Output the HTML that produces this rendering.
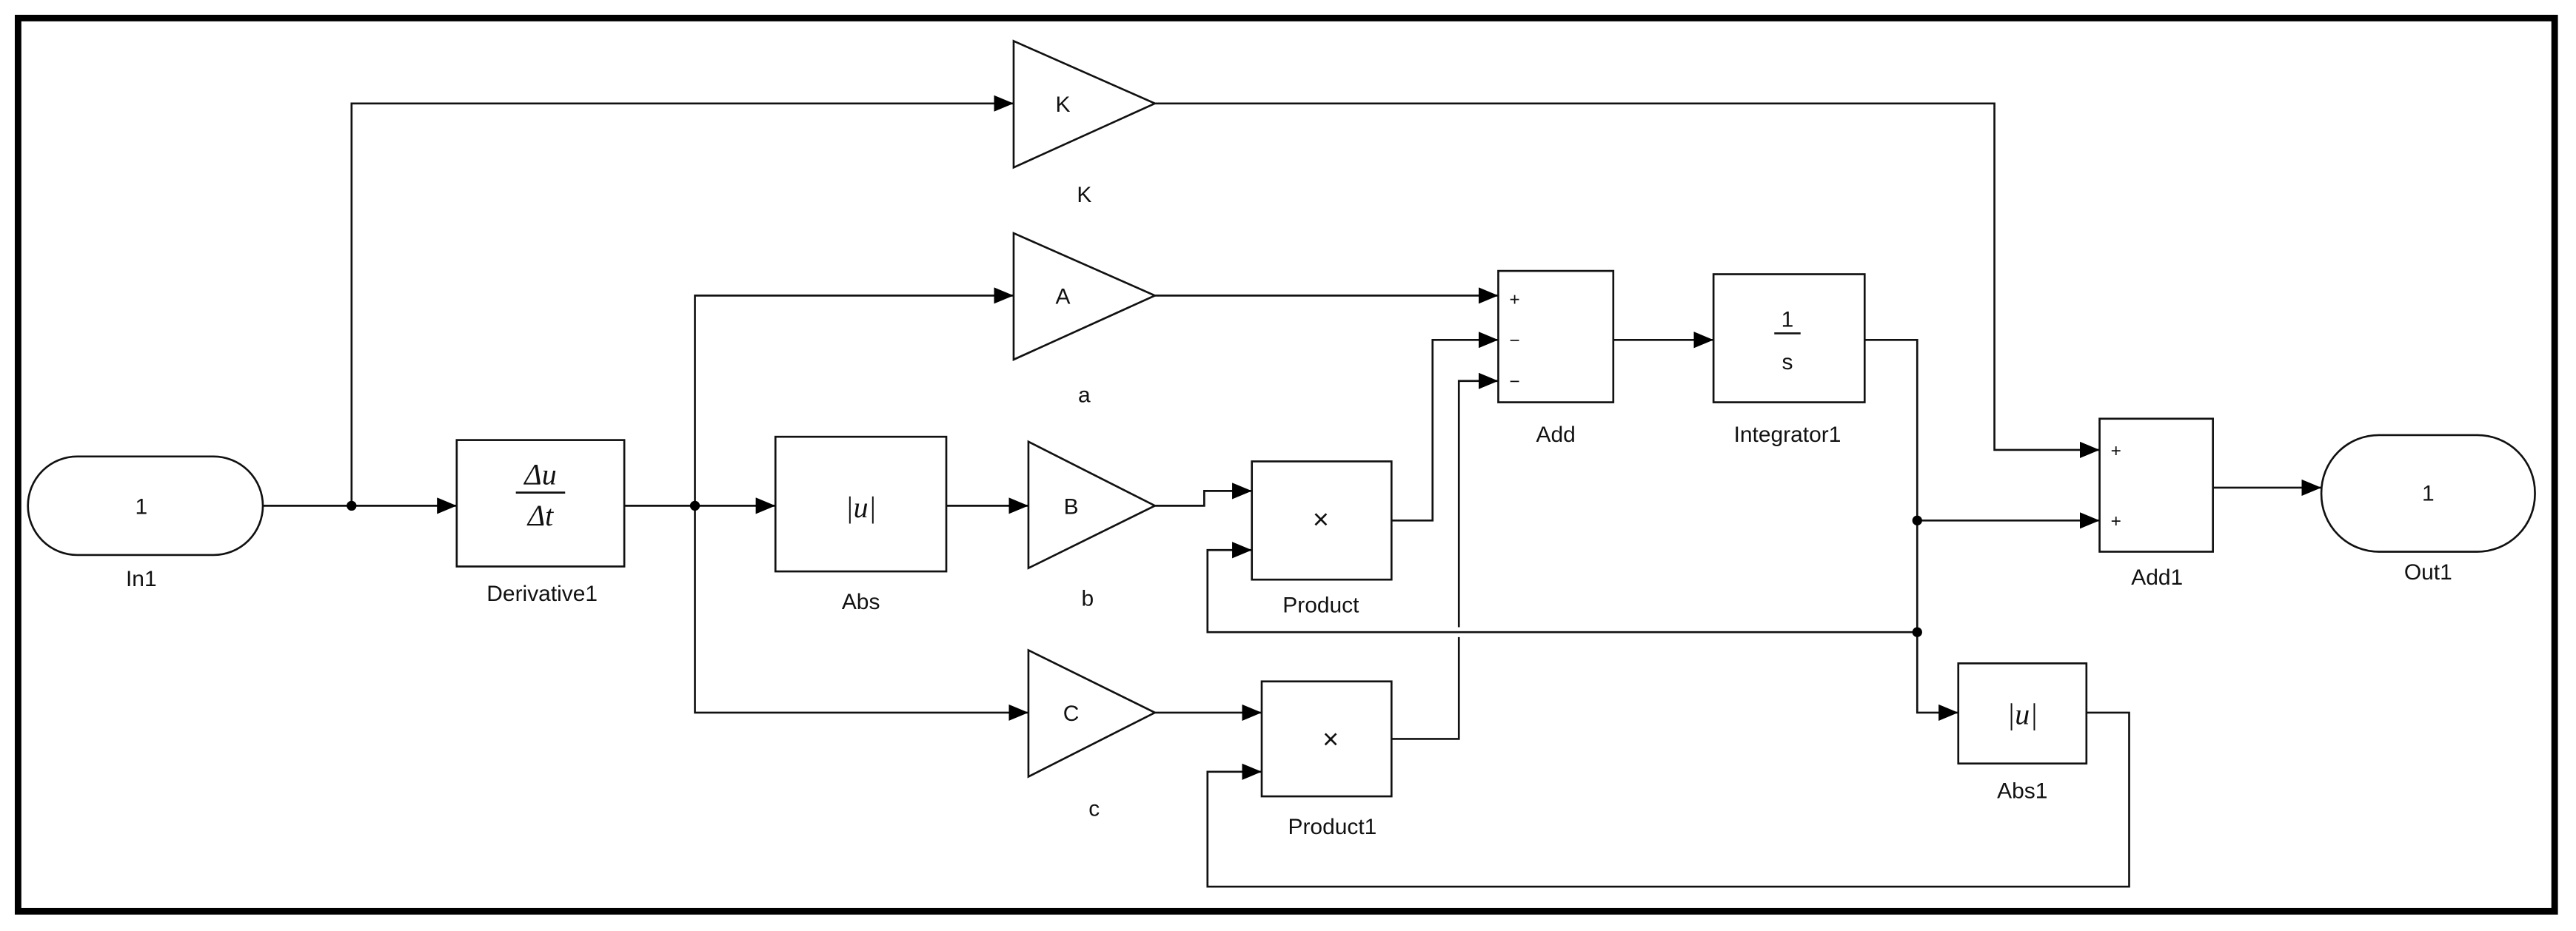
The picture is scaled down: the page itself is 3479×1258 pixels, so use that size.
<!DOCTYPE html>
<html><head><meta charset="utf-8"><style>
html,body{margin:0;padding:0;background:#fff;}
svg{display:block;}
text{font-family:"Liberation Sans",sans-serif;font-size:13.5px;fill:#111;text-anchor:middle;}
.m{font-family:"Liberation Serif",serif;font-style:italic;font-size:18px;}
</style></head><body>
<svg width="3479" height="1258" viewBox="0 0 1568 567" preserveAspectRatio="none" xmlns="http://www.w3.org/2000/svg">
<defs><marker id="a" markerWidth="12" markerHeight="10" refX="12" refY="5" orient="auto" markerUnits="userSpaceOnUse"><path d="M0,0 L12,5 L0,10 Z" fill="#000"/></marker></defs>
<rect x="11" y="11" width="1544" height="544" fill="#fff" stroke="#000" stroke-width="4"/>
<g fill="none" stroke="#111" stroke-width="1.2">
<!-- In1 -->
<rect x="17" y="278" width="143" height="60" rx="30" fill="#fff"/>
<path d="M160,308 H278" marker-end="url(#a)"/>
<path d="M214,308 V63 H617" marker-end="url(#a)"/>
<polygon points="617,25 703,63 617,102"/>
<rect x="278" y="268" width="102" height="77"/>
<path d="M380,308 H472" marker-end="url(#a)"/>
<path d="M423,308 V180 H617" marker-end="url(#a)"/>
<path d="M423,308 V434 H626" marker-end="url(#a)"/>
<polygon points="617,142 703,180 617,219"/>
<rect x="472" y="266" width="104" height="82"/>
<path d="M576,308 H626" marker-end="url(#a)"/>
<polygon points="626,269 703,308 626,346"/>
<polygon points="626,396 703,434 626,473"/>
<path d="M703,308 H733 V299 H762" marker-end="url(#a)"/>
<rect x="762" y="281" width="85" height="72"/>
<path d="M1167,385 H735 V335 H762" marker-end="url(#a)"/>
<path d="M847,317 H872 V207 H912" marker-end="url(#a)"/>
<path d="M703,180 H912" marker-end="url(#a)"/>
<rect x="912" y="165" width="70" height="80"/>
<path d="M703,434 H768" marker-end="url(#a)"/>
<rect x="768" y="415" width="79" height="70"/>
<path d="M847,450 H888 V388"/>
<path d="M888,382 V232 H912" marker-end="url(#a)"/>
<path d="M1270,434 H1296 V540 H735 V470 H768" marker-end="url(#a)"/>
<path d="M982,207 H1043" marker-end="url(#a)"/>
<rect x="1043" y="167" width="92" height="78"/>
<path d="M1135,207 H1167 V434 H1192" marker-end="url(#a)"/>
<path d="M1167,317 H1278" marker-end="url(#a)"/>
<rect x="1192" y="404" width="78" height="61"/>
<path d="M703,63 H1214 V274 H1278" marker-end="url(#a)"/>
<rect x="1278" y="255" width="69" height="81"/>
<path d="M1347,297 H1413" marker-end="url(#a)"/>
<rect x="1413" y="265" width="130" height="71" rx="35" fill="#fff"/>
<line x1="314" y1="300" x2="344" y2="300"/>
<line x1="1080" y1="203" x2="1096" y2="203"/>
</g>
<g fill="#000"><circle cx="214" cy="308" r="3"/><circle cx="423" cy="308" r="3"/><circle cx="1167" cy="317" r="3"/><circle cx="1167" cy="385" r="3"/></g>
<text x="86" y="313">1</text><text x="86" y="357">In1</text>
<text x="647" y="68">K</text><text x="660" y="123">K</text>
<text x="647" y="185">A</text><text x="660" y="245">a</text>
<text x="652" y="313">B</text><text x="662" y="369">b</text>
<text x="652" y="439">C</text><text x="666" y="497">c</text>
<text class="m" x="329" y="295">Δu</text><text class="m" x="329" y="320">Δt</text>
<text x="330" y="366">Derivative1</text>
<text class="m" x="524" y="315">|u|</text><text x="524" y="371">Abs</text>
<text x="804" y="322" style="font-size:17px">×</text><text x="804" y="373">Product</text>
<text x="810" y="456" style="font-size:17px">×</text><text x="811" y="508">Product1</text>
<text x="922" y="186" style="font-size:11px">+</text><text x="922" y="211" style="font-size:11px">−</text><text x="922" y="236" style="font-size:11px">−</text>
<text x="947" y="269">Add</text>
<text x="1088" y="199">1</text><text x="1088" y="225">s</text><text x="1088" y="269">Integrator1</text>
<text class="m" x="1231" y="441">|u|</text><text x="1231" y="486">Abs1</text>
<text x="1288" y="278" style="font-size:11px">+</text><text x="1288" y="321" style="font-size:11px">+</text>
<text x="1313" y="356">Add1</text>
<text x="1478" y="305">1</text><text x="1478" y="353">Out1</text>
</svg>
</body></html>
